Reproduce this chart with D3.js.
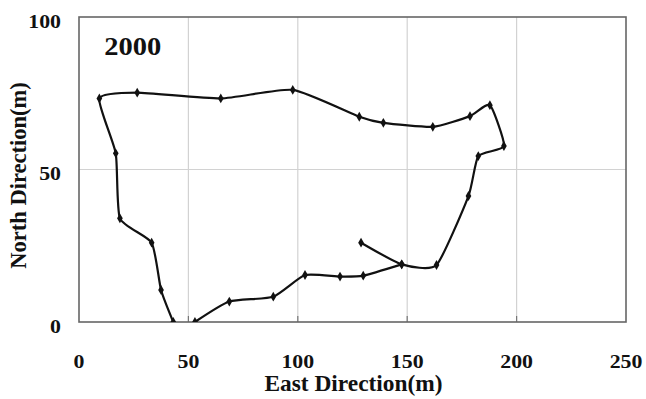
<!DOCTYPE html>
<html>
<head>
<meta charset="utf-8">
<script src="https://cdn.jsdelivr.net/npm/d3@7"></script>
<style>
  html, body { margin: 0; padding: 0; background: #fff; }
  svg { display: block; }
  text { font-family: "Liberation Serif", "Times New Roman", serif; font-weight: bold; fill: #111; }
</style>
</head>
<body>
<svg id="chart" width="646" height="399"></svg>
<script>
// ---- data ----
const chartLabel = "2000";
const xTicks = [0, 50, 100, 150, 200, 250];
const yTicks = [0, 50, 100];
const xTitle = "East Direction(m)";
const yTitle = "North Direction(m)";

// main loop track: from inner start, round the right side, across the top, down the left side
const trackA_east  = [128.9, 147.5, 163.4, 178.0, 182.5, 194.2, 187.8, 178.7, 161.7, 139.1, 128.1, 97.7, 64.8, 26.6, 9.3, 16.8, 18.7, 33.2, 37.5, 43.1];
const trackA_north = [26.0, 18.9, 18.7, 41.3, 54.4, 57.7, 71.1, 67.5, 64.0, 65.3, 67.3, 76.1, 73.3, 75.2, 73.3, 55.3, 34.0, 26.0, 10.5, 0.0];

// lower track: from the bottom edge up to the junction
const trackB_east  = [53.0, 68.7, 88.8, 103.3, 119.3, 129.9, 147.5];
const trackB_north = [0.0, 6.7, 8.3, 15.4, 14.9, 15.2, 18.9];

// ---- layout ----
const svg = d3.select("#chart");
const margin = { left: 79, top: 17, right: 20, bottom: 77 };
const W = 646, H = 399;
const x = d3.scaleLinear().domain([0, 250]).range([margin.left, W - margin.right]);
const y = d3.scaleLinear().domain([0, 100]).range([H - margin.bottom, margin.top]);

// grid lines
svg.append("g").selectAll("line")
  .data(xTicks.filter(d => d > 0 && d < 250)).join("line")
  .attr("x1", d => x(d)).attr("x2", d => x(d))
  .attr("y1", y(0)).attr("y2", y(100))
  .attr("stroke", "#d2d2d2").attr("stroke-width", 1.2);
svg.append("g").selectAll("line")
  .data(yTicks.filter(d => d > 0 && d < 100)).join("line")
  .attr("x1", x(0)).attr("x2", x(250))
  .attr("y1", d => y(d)).attr("y2", d => y(d))
  .attr("stroke", "#d2d2d2").attr("stroke-width", 1.2);

// small tick marks on the bottom axis
svg.append("g").selectAll("line")
  .data(xTicks.filter(d => d > 0 && d < 250)).join("line")
  .attr("x1", d => x(d)).attr("x2", d => x(d))
  .attr("y1", y(0)).attr("y2", y(0) - 6)
  .attr("stroke", "#777").attr("stroke-width", 1.2);

// frame
svg.append("rect")
  .attr("x", x(0)).attr("y", y(100))
  .attr("width", x(250) - x(0)).attr("height", y(0) - y(100))
  .attr("fill", "none").attr("stroke", "#666").attr("stroke-width", 1.6);

const sx = 1.12; // glyphs in the reference are slightly wide

// tick labels
svg.append("g").selectAll("text")
  .data(xTicks).join("text")
  .attr("transform", d => `translate(${x(d)},368) scale(${sx},1)`)
  .attr("text-anchor", "middle")
  .attr("font-size", 19.5)
  .text(d => d);
svg.append("g").selectAll("text")
  .data(yTicks).join("text")
  .attr("transform", d => `translate(61,${y(d) + 10.5}) scale(${sx},1)`)
  .attr("text-anchor", "end")
  .attr("font-size", 19.5)
  .text(d => d);

// axis titles
svg.append("text")
  .attr("transform", `translate(${(x(0) + x(250)) / 2 + 1},391) scale(1.04,1)`)
  .attr("text-anchor", "middle")
  .attr("font-size", 22.5)
  .text(xTitle);
svg.append("text")
  .attr("transform", `translate(25.5,${(y(0) + y(100)) / 2 + 6}) rotate(-90)`)
  .attr("text-anchor", "middle")
  .attr("font-size", 22.5)
  .text(yTitle);

// chart label
svg.append("text")
  .attr("transform", `translate(${x(11.5)},55) scale(1.14,1)`)
  .attr("font-size", 25)
  .text(chartLabel);

// tracks
svg.append("clipPath").attr("id", "plotclip")
  .append("rect")
  .attr("x", x(0)).attr("y", y(100))
  .attr("width", x(250) - x(0)).attr("height", y(0) - y(100));

const line = d3.line()
  .x(d => x(d[0])).y(d => y(d[1]))
  .curve(d3.curveCardinal.tension(0.45));

const tracks = [
  d3.zip(trackA_east, trackA_north),
  d3.zip(trackB_east, trackB_north)
];

const g = svg.append("g").attr("clip-path", "url(#plotclip)");
g.selectAll("path.track").data(tracks).join("path")
  .attr("class", "track")
  .attr("d", line)
  .attr("fill", "none")
  .attr("stroke", "#111")
  .attr("stroke-width", 2.2)
  .attr("stroke-linejoin", "round");

const diamond = d3.symbol().type(d3.symbolDiamond).size(28);
g.selectAll("g.pts").data(tracks).join("g")
  .attr("class", "pts")
  .selectAll("path").data(d => d).join("path")
  .attr("transform", d => `translate(${x(d[0])},${y(d[1])})`)
  .attr("d", diamond)
  .attr("fill", "#111");
</script>
</body>
</html>
